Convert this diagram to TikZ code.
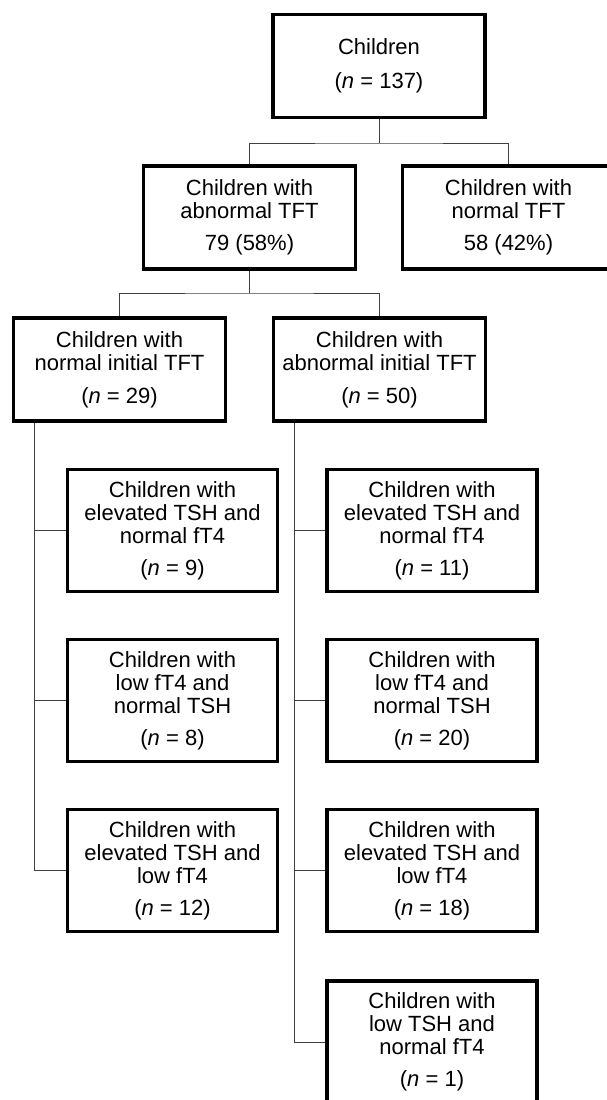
\documentclass[tikz,border=0pt]{standalone}
\usepackage{fontspec}
\setmainfont{Liberation Sans}
\usetikzlibrary{calc}
\tikzset{
  box/.style={draw=black, line width=3.2pt, rectangle, align=center, inner sep=0pt,
    font=\fontsize{22}{23}\selectfont},
  bigbox/.style={box, minimum width=212pt, minimum height=103pt},
  subbox/.style={box, minimum width=210pt, minimum height=122pt},
  conn/.style={draw=black!75, line width=1pt}
}
\newcommand{\nn}[1]{(\textit{n} = #1)}
\begin{document}
\begin{tikzpicture}[x=1pt,y=-1pt]
\useasboundingbox (0,0) rectangle (606,1100);
\node[bigbox] (top) at (379,66) {\raisebox{-3pt}{Children}\\[11pt]\raisebox{-3pt}{\nn{137}}};
\node[bigbox] (abn) at (249.5,217.5) {Children with\\abnormal TFT\\[9pt]79 (58\%)};
\node[bigbox] (nor) at (508.5,217.5) {Children with\\normal TFT\\[9pt]58 (42\%)};
\node[bigbox] (ni) at (119.5,369.5) {\raisebox{-2pt}{Children with}\\\raisebox{-2pt}{normal initial TFT}\\[10pt]\raisebox{-2pt}{\nn{29}}};
\node[bigbox] (ai) at (379.5,369.5) {\raisebox{-2pt}{Children with}\\\raisebox{-2pt}{abnormal initial TFT}\\[10pt]\raisebox{-2pt}{\nn{50}}};
\node[subbox] (l1) at (172.5,530.5) {Children with\\elevated TSH and\\normal fT4\\[9pt]\nn{9}};
\node[subbox] (l2) at (172.5,700.5) {Children with\\low fT4 and\\normal TSH\\[9pt]\nn{8}};
\node[subbox] (l3) at (172.5,870.5) {Children with\\elevated TSH and\\low fT4\\[9pt]\nn{12}};
\node[subbox] (r1) at (432,530.5) {Children with\\elevated TSH and\\normal fT4\\[9pt]\nn{11}};
\node[subbox] (r2) at (432,700.5) {Children with\\low fT4 and\\normal TSH\\[9pt]\nn{20}};
\node[subbox] (r3) at (432,870.5) {Children with\\elevated TSH and\\low fT4\\[9pt]\nn{18}};
\node[subbox] (r4) at (432,1042) {Children with\\low TSH and\\normal fT4\\[9pt]\nn{1}};
\coordinate (lv) at (34,0);
\coordinate (rv) at (294,0);
\coordinate (h1) at (0,143);
\coordinate (h2) at (0,293);
% level 1
\draw[conn] (top.south) -- (top.south |- h1);
\draw[conn] (abn.north) |- (top.south |- h1) -| (nor.north);
% level 2
\draw[conn] (abn.south) -- (abn.south |- h2);
\draw[conn] (ni.north) |- (abn.south |- h2) -| (ai.north);
% left column
\draw[conn] (ni.south -| lv) |- (l3.west);
\draw[conn] (lv |- l1.west) -- (l1.west);
\draw[conn] (lv |- l2.west) -- (l2.west);
% right column
\draw[conn] (ai.south -| rv) |- (r4.west);
\draw[conn] (rv |- r1.west) -- (r1.west);
\draw[conn] (rv |- r2.west) -- (r2.west);
\draw[conn] (rv |- r3.west) -- (r3.west);
\end{tikzpicture}
\end{document}
